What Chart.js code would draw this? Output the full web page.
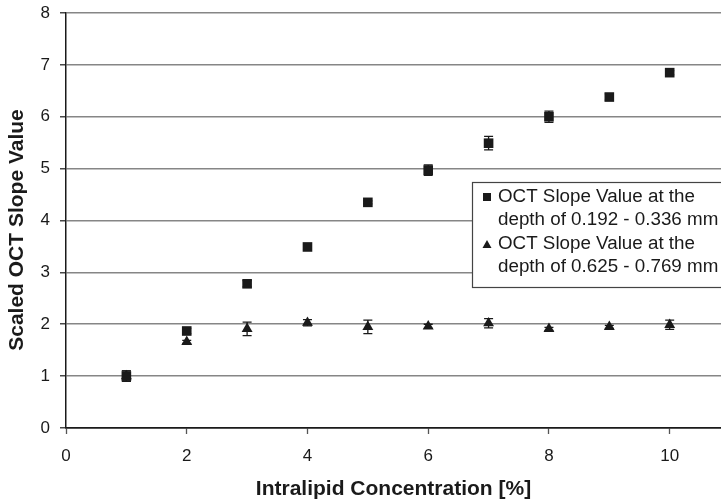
<!DOCTYPE html>
<html>
<head>
<meta charset="utf-8">
<script src="https://cdn.jsdelivr.net/npm/chart.js@4.4.1/dist/chart.umd.min.js"></script>
<style>
  html, body { margin: 0; padding: 0; background: #fff; }
  #wrap { width: 721px; height: 504px; }
</style>
</head>
<body>
<div id="wrap"><canvas id="chart" width="721" height="504"></canvas></div>
<script>
// intralipid concentration (%)
const concentration = [1, 2, 3, 4, 5, 6, 7, 8, 9, 10];

// shallow depth window 0.192 - 0.336 mm
const shallowSlope = [1.00, 1.87, 2.78, 3.49, 4.35, 4.97, 5.49, 6.00, 6.38, 6.85];
const shallowErr   = [0.10, 0.05, 0.06, 0.05, 0.03, 0.10, 0.13, 0.11, 0.06, 0.04];

// deep depth window 0.625 - 0.769 mm
const deepSlope = [1.00, 1.66, 1.91, 2.03, 1.95, 1.96, 2.02, 1.91, 1.95, 1.99];
const deepErr   = [0.10, 0.03, 0.13, 0.06, 0.13, 0.04, 0.09, 0.03, 0.03, 0.09];

const seriesLabels = [
    ['OCT Slope Value at the', 'depth of 0.192 - 0.336 mm'],
    ['OCT Slope Value at the', 'depth of 0.625 - 0.769 mm']
];

const xTicks = [0, 2, 4, 6, 8, 10];
const yTicks = [0, 1, 2, 3, 4, 5, 6, 7, 8];
const yTitle = 'Scaled OCT Slope Value';
const xTitle = 'Intralipid Concentration [%]';

const FONT = 'Liberation Sans, Arial, Helvetica, sans-serif';
const INK = '#1a1a1a';

function toPoints(ys) {
    return concentration.map((x, i) => ({ x: x, y: ys[i] }));
}

// vertical error bars with small caps, drawn under the markers
const errorBars = {
    id: 'errorBars',
    beforeDatasetsDraw(chart) {
        const ctx = chart.ctx;
        const xs = chart.scales.x, ys = chart.scales.y;
        const errs = [shallowErr, deepErr];
        ctx.save();
        ctx.strokeStyle = INK;
        ctx.lineWidth = 1.3;
        chart.data.datasets.forEach((ds, d) => {
            ds.data.forEach((p, i) => {
                const px = xs.getPixelForValue(p.x);
                const top = ys.getPixelForValue(p.y + errs[d][i]);
                const bot = ys.getPixelForValue(p.y - errs[d][i]);
                ctx.beginPath();
                ctx.moveTo(px, top); ctx.lineTo(px, bot);
                ctx.moveTo(px - 4.5, top); ctx.lineTo(px + 4.5, top);
                ctx.moveTo(px - 4.5, bot); ctx.lineTo(px + 4.5, bot);
                ctx.stroke();
            });
        });
        ctx.restore();
    }
};

// rotated y-axis title, sitting a little below the axis middle
const sideTitle = {
    id: 'sideTitle',
    afterDraw(chart) {
        const ctx = chart.ctx;
        ctx.save();
        ctx.translate(17, 230);
        ctx.rotate(-Math.PI / 2);
        ctx.font = 'bold 21px ' + FONT;
        ctx.fillStyle = INK;
        ctx.textAlign = 'center';
        ctx.textBaseline = 'middle';
        ctx.fillText(yTitle, 0, 0);
        ctx.restore();
    }
};

// boxed legend with two-line entries
const boxLegend = {
    id: 'boxLegend',
    afterDraw(chart) {
        const ctx = chart.ctx;
        const left = 472, top = 182, bottom = 287;
        ctx.save();
        ctx.fillStyle = '#fff';
        ctx.fillRect(left, top, 260, bottom - top);
        ctx.strokeStyle = '#444';
        ctx.lineWidth = 1.2;
        ctx.strokeRect(left + 0.5, top + 0.5, 260, bottom - top);

        ctx.font = '18.8px ' + FONT;
        ctx.fillStyle = INK;
        ctx.textBaseline = 'middle';
        ctx.textAlign = 'left';
        const rows = [[197, 220], [244, 267]];
        seriesLabels.forEach((lines, k) => {
            lines.forEach((t, j) => ctx.fillText(t, 498, rows[k][j]));
        });
        // markers
        ctx.fillRect(483, 193, 8, 8);
        ctx.beginPath();
        ctx.moveTo(487, 240); ctx.lineTo(491.5, 248); ctx.lineTo(482.5, 248);
        ctx.closePath();
        ctx.fill();
        ctx.restore();
    }
};

new Chart(document.getElementById('chart'), {
    type: 'scatter',
    data: {
        datasets: [
            {
                label: seriesLabels[0].join(' '),
                data: toPoints(shallowSlope),
                pointStyle: 'rect',
                pointRadius: 6.8,
                pointHoverRadius: 6.8,
                pointBackgroundColor: INK,
                pointBorderWidth: 0
            },
            {
                label: seriesLabels[1].join(' '),
                data: toPoints(deepSlope),
                pointStyle: 'triangle',
                pointRadius: 6.3,
                pointHoverRadius: 6.3,
                pointBackgroundColor: INK,
                pointBorderWidth: 0
            }
        ]
    },
    options: {
        responsive: false,
        animation: false,
        events: [],
        layout: { autoPadding: false, padding: { top: 13, right: 0, left: 0, bottom: 0 } },
        plugins: {
            legend: { display: false },
            tooltip: { enabled: false }
        },
        scales: {
            x: {
                type: 'linear',
                min: 0,
                max: 10.85,
                afterBuildTicks(scale) { scale.ticks = xTicks.map(v => ({ value: v })); },
                afterFit(scale) {
                    scale.height = 76;
                    scale.paddingLeft = 0;
                    scale.paddingRight = 0;
                },
                grid: {
                    drawOnChartArea: false,
                    drawTicks: true,
                    tickLength: 6,
                    tickColor: '#555',
                    tickWidth: 1.3
                },
                border: { color: INK, width: 1.5 },
                ticks: {
                    padding: 12,
                    color: INK,
                    font: { family: FONT, size: 17 }
                },
                title: {
                    display: true,
                    text: xTitle,
                    color: INK,
                    padding: { top: 0, bottom: 2 },
                    font: { family: FONT, size: 21, weight: 'bold' }
                }
            },
            y: {
                min: 0,
                max: 8,
                afterBuildTicks(scale) { scale.ticks = yTicks.map(v => ({ value: v })); },
                afterFit(scale) {
                    scale.width = 66;
                    scale.paddingTop = 0;
                    scale.paddingBottom = 0;
                },
                grid: {
                    color: ctx => ctx.tick && ctx.tick.value === 0 ? INK : '#868686',
                    lineWidth: 1.6,
                    drawTicks: true,
                    tickLength: 6,
                    tickColor: INK,
                    tickWidth: 1.2
                },
                border: { color: INK, width: 1.5 },
                ticks: {
                    padding: 10,
                    color: INK,
                    font: { family: FONT, size: 17 }
                }
            }
        }
    },
    plugins: [errorBars, sideTitle, boxLegend]
});
</script>
</body>
</html>
